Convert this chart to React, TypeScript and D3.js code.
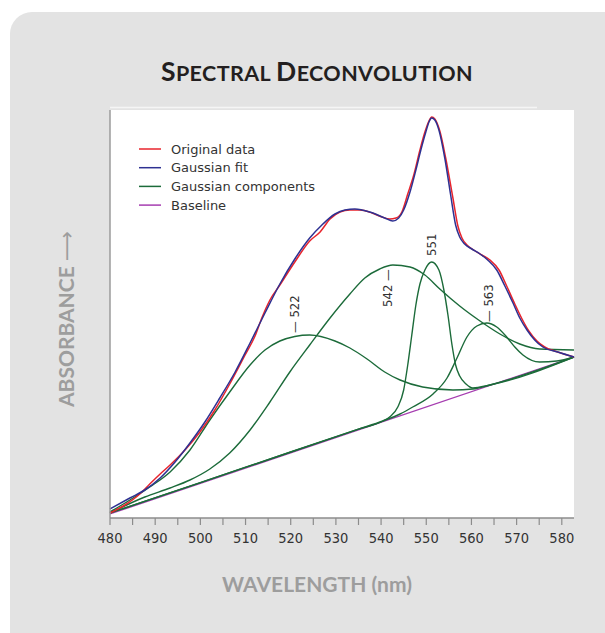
import React from 'react';
import * as d3 from 'd3';

const W = 605;
const H = 633;

const majorTicks = [480, 490, 500, 510, 520, 530, 540, 550, 560, 570, 580];
const minorTicks = [485, 495, 505, 515, 525, 535, 545, 555, 565, 575];

const baselineData: [number, number][] = [[480, 0.01], [582.7, 0.4025]];

const originalData: [number, number][] = [
  [480.0, 0.0125], [483.3, 0.0325], [486.6, 0.06], [488.8, 0.085], [491.1, 0.11],
  [493.3, 0.1325], [496.6, 0.17], [499.9, 0.215], [503.2, 0.27], [506.5, 0.335],
  [509.9, 0.4075], [512.1, 0.455], [513.6, 0.5], [515.4, 0.545], [517.6, 0.5825],
  [520.9, 0.64], [524.2, 0.6925], [526.5, 0.715], [528.7, 0.7475], [530.9, 0.765],
  [533.1, 0.77], [535.3, 0.77], [538.0, 0.7625], [540.2, 0.7525], [541.9, 0.7475],
  [543.3, 0.75], [544.6, 0.765], [545.9, 0.81], [547.3, 0.86], [548.6, 0.92],
  [549.7, 0.965], [550.6, 0.9925], [551.2, 1.0025], [551.9, 0.9975], [553.0, 0.9675],
  [554.3, 0.9], [555.9, 0.8], [557.0, 0.73], [557.9, 0.7], [559.0, 0.6825],
  [560.5, 0.67], [562.3, 0.6575], [564.1, 0.645], [566.1, 0.62], [567.8, 0.58],
  [569.6, 0.535], [571.2, 0.4975], [572.7, 0.4675], [574.5, 0.4425], [576.2, 0.4275],
  [579.1, 0.415], [582.7, 0.4025],
];

const fitData: [number, number][] = [
  [480.0, 0.0225], [484.4, 0.05], [487.7, 0.07], [491.1, 0.1], [494.4, 0.14],
  [497.7, 0.1875], [501.0, 0.24], [504.3, 0.3], [507.7, 0.365], [511.0, 0.4375],
  [514.3, 0.5125], [517.6, 0.585], [520.9, 0.6475], [524.2, 0.7], [526.9, 0.7325],
  [529.8, 0.76], [532.0, 0.77], [534.2, 0.7725], [537.5, 0.765], [540.8, 0.75],
  [542.6, 0.7425], [543.9, 0.75], [545.0, 0.77], [546.4, 0.815], [547.7, 0.87],
  [548.8, 0.92], [549.9, 0.965], [550.6, 0.99], [551.2, 1.0], [551.9, 0.995],
  [552.8, 0.97], [554.1, 0.9], [555.4, 0.8075], [556.5, 0.7325], [557.4, 0.7025],
  [558.5, 0.685], [560.1, 0.6725], [561.9, 0.66], [563.6, 0.645], [565.6, 0.62],
  [567.4, 0.58], [569.2, 0.5375], [570.7, 0.5], [572.3, 0.47], [574.0, 0.445],
  [575.8, 0.4275], [579.1, 0.415], [582.7, 0.4025],
];

const component522: [number, number][] = [
  [480.0, 0.015], [484.4, 0.045], [488.8, 0.0775], [493.3, 0.115], [497.7, 0.17],
  [502.1, 0.245], [506.5, 0.315], [511.0, 0.3825], [514.3, 0.42], [517.6, 0.4425],
  [520.9, 0.4538], [524.2, 0.4575], [529.8, 0.4425], [533.1, 0.425], [536.9, 0.3975],
  [540.8, 0.365], [544.2, 0.345], [549.2, 0.3275], [555.9, 0.32], [560.3, 0.3225],
  [564.1, 0.3325], [582.7, 0.4025],
];

const component542: [number, number][] = [
  [480.0, 0.0125], [487.7, 0.0525], [493.3, 0.075], [497.7, 0.095], [502.1, 0.1225],
  [506.5, 0.1625], [511.0, 0.22], [515.4, 0.29], [519.8, 0.365], [524.2, 0.4325],
  [528.7, 0.5], [533.1, 0.56], [536.4, 0.6], [539.7, 0.6225], [542.6, 0.6325],
  [546.4, 0.6275], [549.7, 0.6075], [553.0, 0.5725], [557.4, 0.53], [561.9, 0.4925],
  [566.3, 0.46], [570.7, 0.435], [575.1, 0.4225], [582.7, 0.42],
];

const component551: [number, number][] = [
  [480.0, 0.0125], [500.0, 0.0885], [520.0, 0.165], [535.0, 0.222], [540.4, 0.2425],
  [541.9, 0.2525], [543.7, 0.2775], [545.0, 0.32], [545.9, 0.3825], [546.8, 0.4575],
  [547.7, 0.5325], [548.6, 0.585], [549.7, 0.62], [551.2, 0.64], [552.8, 0.62],
  [553.9, 0.57], [554.8, 0.5075], [555.7, 0.4325], [556.5, 0.3825], [557.4, 0.355],
  [558.8, 0.335], [560.3, 0.325], [564.1, 0.3325], [582.7, 0.4025],
];

const component563: [number, number][] = [
  [480.0, 0.0125], [500.0, 0.0885], [520.0, 0.165], [535.0, 0.222], [540.4, 0.2425],
  [544.2, 0.26], [547.0, 0.2775], [551.5, 0.31], [554.6, 0.35], [556.8, 0.4],
  [559.0, 0.4525], [561.2, 0.48], [563.4, 0.4875], [565.6, 0.4775], [567.8, 0.4525],
  [569.6, 0.4275], [571.4, 0.4075], [575.1, 0.39], [578.9, 0.3925], [582.7, 0.4025],
];

const components = [component522, component542, component551, component563];

const legendLabels = ['Original data', 'Gaussian fit', 'Gaussian components', 'Baseline'];
const legendColors = ['#e8242c', '#2e3192', '#1c6b3a', '#a63db0'];

const peakLabelTexts = ['— 522', '542 —', '551', '— 563'];
const peakLabelAnchors: [number, number][] = [
  [520.9, 0.4625], [541.5, 0.5275], [551.2, 0.655], [563.8, 0.49],
];

const COLORS = {
  original: '#e8242c',
  fit: '#2e3192',
  component: '#1c6b3a',
  baseline: '#a63db0',
};

const tickFont = "'Liberation Sans Narrow', 'DejaVu Sans Condensed', 'Arial Narrow', sans-serif";

export default function App() {
  const x = d3.scaleLinear().domain([480, 582.7]).range([110, 574]);
  const y = d3.scaleLinear().domain([0, 1.02]).range([518, 110]);
  const line = d3
    .line<[number, number]>()
    .x((d) => x(d[0]))
    .y((d) => y(d[1]))
    .curve(d3.curveMonotoneX);

  const plotLeft = x.range()[0];
  const plotRight = x.range()[1];
  const plotBottom = y.range()[0];
  const plotTop = y.range()[1];

  return (
    <svg
      width={W}
      height={H}
      style={{ position: 'absolute', left: 0, top: 0, display: 'block' }}
    >
      <rect x={0} y={0} width={W} height={H} fill="#ffffff" />
      <rect x={10} y={12} width={W + 40} height={H + 40} rx={22} ry={22} fill="#e3e3e3" />

      <text
        x={317}
        y={81}
        textAnchor="middle"
        fontFamily="Lato, 'Open Sans', sans-serif"
        fontWeight={700}
        letterSpacing={0.4}
        fill="#231f20"
      >
        <tspan fontSize={26.5}>S</tspan>
        <tspan fontSize={21.5}>PECTRAL </tspan>
        <tspan fontSize={26.5}>D</tspan>
        <tspan fontSize={21.5}>ECONVOLUTION</tspan>
      </text>

      <line x1={plotLeft} x2={537} y1={107.5} y2={107.5} stroke="#f5f5f5" strokeWidth={1.5} />
      <rect
        x={plotLeft}
        y={plotTop}
        width={plotRight - plotLeft}
        height={plotBottom - plotTop}
        fill="#ffffff"
      />

      <path d={line(baselineData) || ''} fill="none" stroke={COLORS.baseline} strokeWidth={1.3} />
      {components.map((c, i) => (
        <path key={'c' + i} d={line(c) || ''} fill="none" stroke={COLORS.component} strokeWidth={1.4} />
      ))}
      <path d={line(originalData) || ''} fill="none" stroke={COLORS.original} strokeWidth={1.5} />
      <path d={line(fitData) || ''} fill="none" stroke={COLORS.fit} strokeWidth={1.5} />

      {peakLabelTexts.map((t, i) => (
        <text
          key={'pl' + i}
          transform={`translate(${x(peakLabelAnchors[i][0])},${y(peakLabelAnchors[i][1])}) rotate(-90)`}
          textAnchor="start"
          dominantBaseline="central"
          fontFamily={tickFont}
          fontSize={13}
          fill="#333333"
        >
          {t}
        </text>
      ))}

      <line x1={plotLeft} x2={plotLeft} y1={plotTop} y2={plotBottom} stroke="#9b9b9b" strokeWidth={1.5} />
      <line x1={plotLeft} x2={plotRight} y1={plotBottom} y2={plotBottom} stroke="#8c8c8c" strokeWidth={1.5} />
      {majorTicks.concat(minorTicks).map((t) => (
        <line key={'t' + t} x1={x(t)} x2={x(t)} y1={plotBottom} y2={plotBottom + 7} stroke="#8c8c8c" strokeWidth={1.2} />
      ))}
      {majorTicks.map((t) => (
        <text
          key={'tl' + t}
          x={x(t)}
          y={plotBottom + 25}
          textAnchor="middle"
          fontFamily={tickFont}
          fontSize={14.5}
          fill="#333333"
        >
          {t}
        </text>
      ))}

      <text
        x={317}
        y={592}
        textAnchor="middle"
        fontFamily="Lato, 'Open Sans', sans-serif"
        fontWeight={700}
        fontSize={21}
        fill="#9d9d9d"
      >
        WAVELENGTH (nm)
      </text>

      <text
        transform="translate(74,407) rotate(-90)"
        textAnchor="start"
        fontFamily="Lato, 'Open Sans', sans-serif"
        fontWeight={700}
        fontSize={21}
        fill="#9d9d9d"
      >
        ABSORBANCE{' '}
        <tspan fontFamily="'DejaVu Sans', sans-serif" fontWeight={400}>
          ⟶
        </tspan>
      </text>

      {legendLabels.map((label, i) => {
        const ly = 149 + i * 18.7;
        return (
          <g key={'lg' + i}>
            <line x1={139} x2={161} y1={ly} y2={ly} stroke={legendColors[i]} strokeWidth={1.5} />
            <text
              x={171}
              y={ly}
              dominantBaseline="central"
              fontFamily="'DejaVu Sans', Verdana, sans-serif"
              fontSize={13}
              fill="#333333"
            >
              {label}
            </text>
          </g>
        );
      })}
    </svg>
  );
}
